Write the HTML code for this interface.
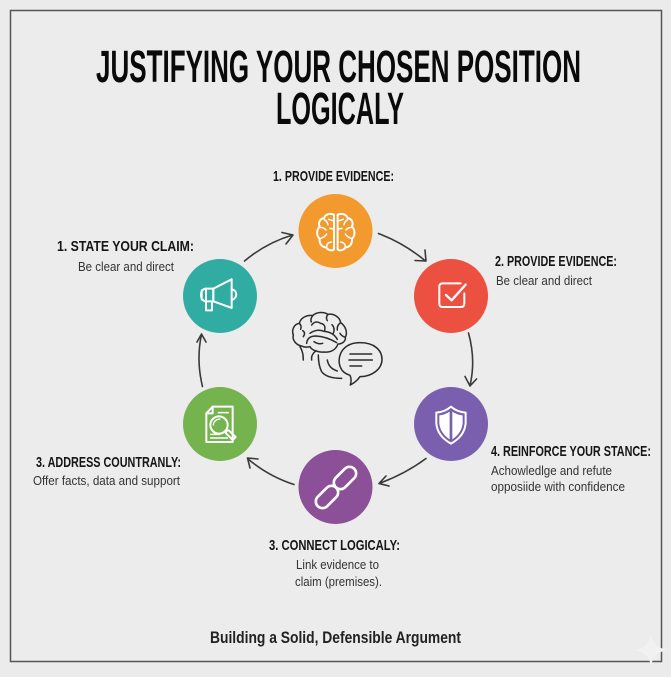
<!DOCTYPE html>
<html><head><meta charset="utf-8"><style>
html,body{margin:0;padding:0;background:#ebebeb}
svg{display:block}
text{font-family:"Liberation Sans",sans-serif;fill:#151515}
.h{font-weight:bold;font-size:15px}
.b{font-size:12.5px;fill:#333}
</style></head><body>
<svg width="671" height="677" viewBox="0 0 671 677" xmlns="http://www.w3.org/2000/svg">
<rect width="671" height="677" fill="#ebebeb"/>
<rect x="10.5" y="10.5" width="651" height="651" fill="#ececec" stroke="#555" stroke-width="1.5"/>
<path d="M651 634Q653 647 667 650Q653 653 651 666Q649 653 635 650Q649 647 651 634Z" fill="#f1f1f1"/>

<text x="96" y="82" font-size="45" font-weight="bold" style="fill:#0a0a0a" textLength="485" lengthAdjust="spacingAndGlyphs">JUSTIFYING YOUR CHOSEN POSITION</text>
<text x="276" y="124" font-size="45" font-weight="bold" style="fill:#0a0a0a" textLength="128" lengthAdjust="spacingAndGlyphs">LOGICALY</text>

<text class="h" x="273" y="181" textLength="121" lengthAdjust="spacingAndGlyphs">1. PROVIDE EVIDENCE:</text>
<text class="h" x="57" y="251" textLength="137" lengthAdjust="spacingAndGlyphs">1. STATE YOUR CLAIM:</text>
<text class="b" x="78" y="271" textLength="96" lengthAdjust="spacingAndGlyphs">Be clear and direct</text>
<text class="h" x="495" y="266" textLength="122" lengthAdjust="spacingAndGlyphs">2. PROVIDE EVIDENCE:</text>
<text class="b" x="496" y="285" textLength="96" lengthAdjust="spacingAndGlyphs">Be clear and direct</text>
<text class="h" x="36" y="467" textLength="145" lengthAdjust="spacingAndGlyphs">3. ADDRESS COUNTRANLY:</text>
<text class="b" x="33" y="485" textLength="147" lengthAdjust="spacingAndGlyphs">Offer facts, data and support</text>
<text class="h" x="491" y="456" textLength="160" lengthAdjust="spacingAndGlyphs">4. REINFORCE YOUR STANCE:</text>
<text class="b" x="491" y="475" textLength="121" lengthAdjust="spacingAndGlyphs">Achowledlge and refute</text>
<text class="b" x="491" y="491" textLength="134" lengthAdjust="spacingAndGlyphs">opposiide with confidence</text>
<text class="h" x="269" y="550" textLength="131" lengthAdjust="spacingAndGlyphs">3. CONNECT LOGICALY:</text>
<text class="b" x="296" y="569" textLength="83" lengthAdjust="spacingAndGlyphs">Link evidence to</text>
<text class="b" x="295" y="586" textLength="87" lengthAdjust="spacingAndGlyphs">claim (premises).</text>
<text x="210" y="643" font-size="17" font-weight="bold" style="fill:#222" textLength="251" lengthAdjust="spacingAndGlyphs">Building a Solid, Defensible Argument</text>

<circle cx="335.500" cy="231" r="37" fill="#f39a2e"/>
<circle cx="451" cy="296" r="37" fill="#ec5040"/>
<circle cx="451" cy="424" r="37" fill="#7a5fae"/>
<circle cx="335.500" cy="487" r="37" fill="#8b5098"/>
<circle cx="220" cy="424" r="37" fill="#74b34e"/>
<circle cx="220" cy="296" r="37" fill="#30aca3"/>

<g fill="none" stroke="#3a3a3a" stroke-width="1.600" stroke-linecap="round" stroke-linejoin="round">
<path d="M244.500 261Q266 243 292.500 235M282 232.500L293 235L286 244"/>
<path d="M378.500 233.500Q404 243 425.500 261M415 260.500L426 261L425 250"/>
<path d="M468.500 333Q476 360 470 385.500M465 376.500L470 386L476.500 379"/>
<path d="M426 458.500Q405 474 379 483.500M386 476L379 483.500L389 486"/>
<path d="M294 484.500Q268 476 247.500 458.500M258 459L247.500 458L250 468"/>
<path d="M202.500 386.500Q196 360 201.500 334.500M197 342L201.500 334L206 342"/>
</g>

<g transform="translate(170,180) scale(.3333)" fill="none" stroke="#fff" stroke-width="6" stroke-linecap="round" stroke-linejoin="round">
<path d="M492 104C478 98 466 104 462 114C449 116 444 130 449 140C439 150 439 168 449 176C447 190 456 202 468 202C474 211 487 214 492 208Z"/>
<path d="M503 104C517 98 529 104 533 114C546 116 551 130 546 140C556 150 556 168 546 176C548 190 539 202 527 202C521 211 508 214 503 208Z"/>
<path d="M462 118Q472 124 474 134M450 142Q462 142 468 150M480 145L490 147M450 176Q464 172 470 162M470 200Q470 188 484 186M476 118L488 122M534 118Q524 124 522 134M546 142Q534 142 528 150M516 145L506 147M546 176Q532 172 526 162M526 200Q526 188 512 186M520 118L508 122" stroke-width="4.500"/>
<path d="M130 326L185 298V384L130 364Z"/>
<path d="M108 326H130V364H108Z"/>
<path d="M108 326C88 326 88 364 108 364M95 331V359"/>
<path d="M108 364V391H126V366"/>
<path d="M186 328C203 332 203 354 186 360"/>
<path d="M872 310H818Q808 310 808 320V370Q808 381 818 381H872Q883 381 883 370V340"/>
<path d="M828 345L845 361L887 314" stroke-width="7"/>
</g>

<g transform="translate(170,300) scale(.3333)" fill="none" stroke="#fff" stroke-width="6" stroke-linecap="round" stroke-linejoin="round">
<path d="M843 320Q825 336 799 338V370Q802 408 843 431Q884 408 887 370V338Q861 336 843 320Z"/>
<path d="M839 335Q822 346 808 346V370Q811 399 839 418Z" fill="#fff" stroke="none"/>
<path d="M847 335Q864 346 878 346V370Q875 399 847 418Z" fill="#fff" stroke="none"/>
<path d="M128 320H188V426H109V340Z"/>
<path d="M128 320V340H109"/>
<path d="M145 338H175M122 414H172M122 403H150" stroke-width="4.500"/>
<circle cx="147" cy="375" r="26"/>
<path d="M130 375Q132 358 150 357" stroke-width="4"/>
<path d="M167 393L176 391L197 411L188 420L168 400Z"/>
<rect x="486" y="514" width="78" height="40" rx="20" transform="rotate(-45 525 534)" stroke-width="8"/>
<rect x="432" y="571" width="78" height="40" rx="20" transform="rotate(-45 471 591)" stroke-width="8"/>
</g>

<g transform="translate(170,300) scale(.3333)" fill="none" stroke="#2b2b2b" stroke-width="4.500" stroke-linecap="round" stroke-linejoin="round">
<path d="M395 138C378 135 366 120 370 105C364 90 372 72 388 70C392 52 412 44 428 47C440 35 462 35 474 43C492 40 510 52 512 68C526 78 534 96 526 112C528 122 518 132 504 132C498 148 484 158 462 156C444 158 425 150 420 140C412 142 402 142 395 138Z"/>
<path d="M388 70Q396 78 392 88M428 47Q420 58 424 66M474 43Q466 52 472 62M512 68Q500 76 502 90M526 112Q514 108 510 100"/>
<path d="M420 100Q440 85 462 94Q490 96 502 118M410 130Q412 108 438 108Q470 110 500 128M432 125Q445 134 458 130"/>
<path d="M425 75Q436 60 452 70Q468 72 464 92M400 110Q408 98 398 92M486 74Q496 84 490 100"/>
<path d="M390 140Q400 155 400 180M425 180Q422 165 438 152M445 165Q445 195 455 215Q470 235 515 235M472 180Q476 205 502 213"/>
<path d="M520 215C495 190 505 128 570 128C615 128 636 152 636 178C636 208 605 230 570 230Q560 245 541 255Q546 238 540 226Q528 222 520 215Z"/>
<path d="M540 162H605M537 180H607M540 198H575"/>
</g>
</svg>
</body></html>
